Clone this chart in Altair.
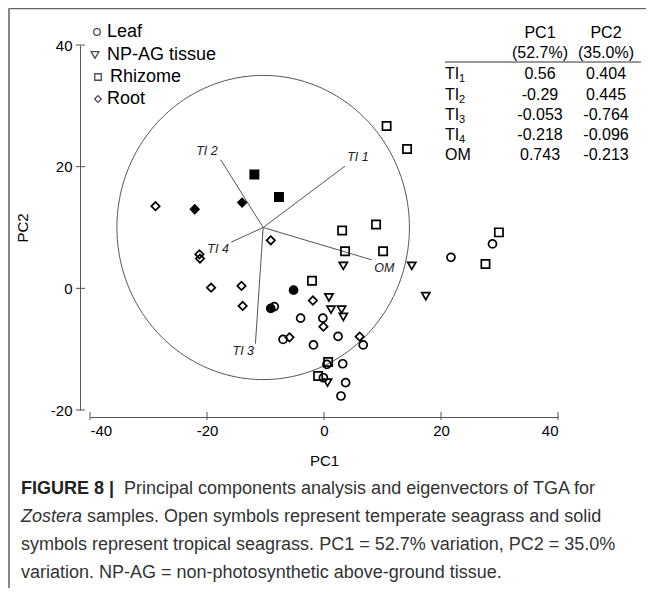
import altair as alt
import pandas as pd
import numpy as np

# ---------------- sample scores (PC1, PC2) ----------------
tissues = ["Leaf", "NP-AG tissue", "Rhizome", "Root"]
shapes = ["circle", "triangle-down", "square", "diamond"]

leaf_x = [-8.5, -4.0, -0.2, -7.0, -1.8, 2.4, 6.7, 0.5, 3.2, -0.1, 3.7, 2.9, 21.7, 28.8]
leaf_y = [-3.0, -4.9, -4.9, -8.4, -9.3, -7.9, -9.3, -12.5, -12.4, -14.7, -15.5, -17.7, 5.1, 7.3]
leaf_trop_x = [-5.2, -9.1]
leaf_trop_y = [-0.3, -3.3]

np_x = [3.3, 15.0, 17.4, 0.85, 1.2, 3.0, 3.3, 0.6]
np_y = [3.7, 3.7, -1.3, -1.5, -3.5, -3.5, -4.7, -15.5]

rhiz_x = [10.7, 14.2, 3.1, 8.9, 3.6, 10.1, -2.05, 0.7, -1.0, 27.6, 29.9]
rhiz_y = [26.7, 22.9, 9.5, 10.5, 6.1, 6.1, 1.25, -12.1, -14.4, 4.0, 9.2]
rhiz_trop_x = [-11.9, -7.7]
rhiz_trop_y = [18.7, 15.0]

root_x = [-28.8, -9.1, -21.3, -21.2, -19.3, -14.1, -13.9, -1.9, -0.1, -5.9, 6.1]
root_y = [13.5, 7.9, 5.6, 4.9, 0.1, 0.4, -2.9, -2.0, -6.3, -8.05, -7.95]
root_trop_x = [-22.1, -14.0]
root_trop_y = [13.0, 14.1]

# ---------------- eigenvector table ----------------
var_names = ["TI", "TI", "TI", "TI", "OM"]
var_subs = ["1", "2", "3", "4", ""]
pc1_load = [0.56, -0.29, -0.053, -0.218, 0.743]
pc2_load = [0.404, 0.445, -0.764, -0.096, -0.213]
pc1_txt = ["0.56", "-0.29", "-0.053", "-0.218", "0.743"]
pc2_txt = ["0.404", "0.445", "-0.764", "-0.096", "-0.213"]
vec_labels = ["TI 1", "TI 2", "TI 3", "TI 4", "OM"]
vec_label_x = [5.8, -20.0, -13.8, -18.1, 10.3]
vec_label_y = [21.6, 22.5, -10.3, 6.5, 3.3]
circle_cx, circle_cy, circle_r = -10.4, 10.0, 25.0

x_ticks = [-40, -20, 0, 20, 40]
y_ticks = [-20, 0, 20, 40]

caption_lines = [
    "Principal components analysis and eigenvectors of TGA for",
    "samples. Open symbols represent temperate seagrass and solid",
    "symbols represent tropical seagrass. PC1 = 52.7% variation, PC2 = 35.0%",
    "variation. NP-AG = non-photosynthetic above-ground tissue.",
]

# ---------------- build tables ----------------
rows = []
def add(xs, ys, tissue, climate):
    for a, b in zip(xs, ys):
        rows.append({"x": a, "y": b, "tissue": tissue, "tissue2": tissue, "climate": climate})

add(leaf_x, leaf_y, "Leaf", "temperate")
add(np_x, np_y, "NP-AG tissue", "temperate")
add(rhiz_x, rhiz_y, "Rhizome", "temperate")
add(root_x, root_y, "Root", "temperate")
add(leaf_trop_x, leaf_trop_y, "Leaf", "tropical")
add(rhiz_trop_x, rhiz_trop_y, "Rhizome", "tropical")
add(root_trop_x, root_trop_y, "Root", "tropical")
points_df = pd.DataFrame(rows)

vec_df = pd.DataFrame({
    "x": [circle_cx] * 5,
    "y": [circle_cy] * 5,
    "x2": [circle_cx + circle_r * v for v in pc1_load],
    "y2": [circle_cy + circle_r * v for v in pc2_load],
})
lab_df = pd.DataFrame({"x": vec_label_x, "y": vec_label_y, "t": vec_labels})

theta = np.linspace(0, 2 * np.pi, 241)
circ_df = pd.DataFrame({
    "x": circle_cx + circle_r * np.cos(theta),
    "y": circle_cy + circle_r * np.sin(theta),
    "o": np.arange(len(theta)),
})

W, H = 468, 365
FONT = "Liberation Sans"
LBL = "'' + datum.value"

xs = alt.Scale(domain=[-40, 40], nice=False, zero=False)
ys = alt.Scale(domain=[-20, 40], nice=False, zero=False)
xaxis = alt.Axis(values=x_ticks, offset=7, tickSize=0, labelPadding=6, grid=False,
                 domainColor="#555", domainWidth=1, title="PC1", titlePadding=15,
                 labelFontSize=15, titleFontSize=15, titleFontWeight="normal", labelExpr=LBL,
                 labelFont=FONT, titleFont=FONT, labelColor="#000", titleColor="#000")
yaxis = alt.Axis(values=y_ticks, offset=10, tickSize=0, labelPadding=8, grid=False,
                 domainColor="#555", domainWidth=1, title="PC2", titlePadding=20,
                 labelFontSize=15, titleFontSize=15, titleFontWeight="normal", labelExpr=LBL,
                 labelFont=FONT, titleFont=FONT, labelColor="#000", titleColor="#000")

def X(f):
    return alt.X(f, scale=xs, axis=xaxis)

def Y(f):
    return alt.Y(f, scale=ys, axis=yaxis)

circle = alt.Chart(circ_df).mark_line(color="#555", strokeWidth=1).encode(
    x=X("x:Q"), y=Y("y:Q"), order="o:Q")

vectors = alt.Chart(vec_df).mark_rule(color="#555", strokeWidth=1).encode(
    x=X("x:Q"), y=Y("y:Q"), x2="x2:Q", y2="y2:Q")

veclabels = alt.Chart(lab_df).mark_text(font=FONT, fontSize=12.5, fontStyle="italic",
                                        color="#222").encode(
    x=X("x:Q"), y=Y("y:Q"), text="t:N")

ticks_x = alt.Chart(pd.DataFrame({"t": x_ticks})).mark_rule(color="#555").encode(
    x=X("t:Q"), y=alt.value(H + 7 - 5), y2=alt.value(H + 7 + 3))
ticks_y = alt.Chart(pd.DataFrame({"t": y_ticks})).mark_rule(color="#555").encode(
    y=Y("t:Q"), x=alt.value(-10 - 4), x2=alt.value(-10 + 5))

pts = alt.Chart(points_df).mark_point(strokeWidth=1.7, opacity=1).encode(
    x=X("x:Q"), y=Y("y:Q"),
    shape=alt.Shape("tissue:N", scale=alt.Scale(domain=tissues, range=shapes), legend=None),
    size=alt.Size("tissue2:N", scale=alt.Scale(domain=tissues, range=[64, 70, 50, 64]), legend=None),
    fill=alt.Fill("climate:N", scale=alt.Scale(domain=["temperate", "tropical"],
                                               range=["transparent", "black"]), legend=None),
    stroke=alt.value("black"),
)

def txt(text, x, y, size=16, align="center", weight="normal", style="normal", color="#000", font=FONT):
    return alt.Chart(pd.DataFrame({"t": [text]})).mark_text(
        align=align, baseline="middle", font=font, fontSize=size, fontWeight=weight,
        fontStyle=style, color=color).encode(x=alt.value(x), y=alt.value(y), text="t:N")

# ---------------- legend (top-left) ----------------
leg_y = [-13, 10, 32, 54]
leg_sym_x = [7, 5, 8, 8]
leg_txt_x = [17, 17, 20, 17]
leg_sizes = [45, 60, 42, 45]
legend_layers = []
for i, t in enumerate(tissues):
    legend_layers.append(
        alt.Chart(pd.DataFrame({"a": [0]})).mark_point(
            shape=shapes[i], size=leg_sizes[i], color="black", strokeWidth=1.3, filled=False
        ).encode(x=alt.value(leg_sym_x[i]), y=alt.value(leg_y[i]))
    )
    legend_layers.append(txt(t, leg_txt_x[i], leg_y[i], size=18, align="left"))

# ---------------- table (pixel positions relative to plot area) ----------------
tx_lab, tx_pc1, tx_pc2 = 355, 450, 516
row_y = [29, 49.5, 70, 90, 110]

table_layers = [
    txt("PC1", tx_pc1, -12), txt("PC2", tx_pc2, -12),
    txt("(52.7%)", tx_pc1, 8), txt("(35.0%)", tx_pc2, 8),
]
for i in range(5):
    table_layers.append(txt(var_names[i], tx_lab, row_y[i], align="left"))
    if var_subs[i]:
        table_layers.append(txt(var_subs[i], tx_lab + 14, row_y[i] + 5, size=11, align="left"))
    table_layers.append(txt(pc1_txt[i], tx_pc1, row_y[i]))
    table_layers.append(txt(pc2_txt[i], tx_pc2, row_y[i]))

table_rule = alt.Chart(pd.DataFrame({"a": [0]})).mark_rule(color="#333", strokeWidth=1.2).encode(
    x=alt.value(tx_lab), x2=alt.value(551), y=alt.value(17))

# ---------------- frame and caption ----------------
frame_top = alt.Chart(pd.DataFrame({"a": [0]})).mark_rule(color="#666", strokeWidth=1.5).encode(
    x=alt.value(-82), x2=alt.value(W + 88), y=alt.value(-36.5))
frame_left = alt.Chart(pd.DataFrame({"a": [0]})).mark_rule(color="#888", strokeWidth=2).encode(
    x=alt.value(-81), y=alt.value(-37), y2=alt.value(H + 178))

cap_x = -69
cap_y = [444, 472, 500, 528]
CAPS = 18
caption_layers = [
    txt("FIGURE 8 |", cap_x, cap_y[0], size=CAPS, align="left", weight="bold", color="#222"),
    txt(caption_lines[0], cap_x + 103, cap_y[0], size=CAPS, align="left", color="#333"),
    txt("Zostera", cap_x, cap_y[1], size=CAPS, align="left", style="italic", color="#333"),
    txt(caption_lines[1], cap_x + 66, cap_y[1], size=CAPS, align="left", color="#333"),
    txt(caption_lines[2], cap_x, cap_y[2], size=CAPS, align="left", color="#333"),
    txt(caption_lines[3], cap_x, cap_y[3], size=CAPS, align="left", color="#333"),
]

chart = alt.layer(
    frame_top, frame_left, circle, vectors, veclabels, ticks_x, ticks_y, pts,
    *legend_layers, table_rule, *table_layers, *caption_layers
).properties(
    width=W, height=H,
    autosize=alt.AutoSizeParams(type="none"),
    padding={"left": 82, "top": 37, "right": 88, "bottom": 178},
).configure_view(stroke=None).configure_axis(grid=False)

chart.save("out.html", embed_options={"renderer": "svg", "actions": False})
